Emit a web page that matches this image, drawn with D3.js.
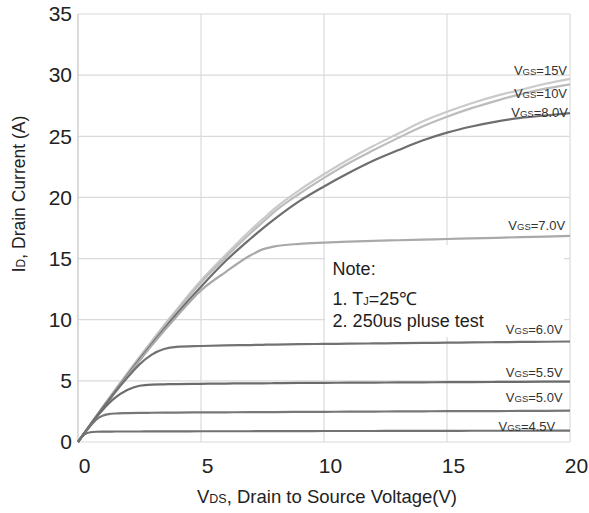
<!DOCTYPE html>
<html>
<head>
<meta charset="utf-8">
<script src="https://cdn.jsdelivr.net/npm/d3@7"></script>
<style>
  body { margin: 0; background: #fff; }
  text { font-family: "Liberation Sans", Arial, sans-serif; }
</style>
</head>
<body>
<svg id="chart" width="589" height="513"></svg>
<script>
// VDS sample points (V), shared by every curve
const vds = [0, 0.25, 0.5, 0.75, 1, 1.25, 1.5, 2, 2.5, 3, 3.5, 4, 5, 6, 7, 7.5, 8, 9, 10, 11, 12, 13, 14, 15, 16, 17, 18, 19, 20];

// ID (A) for each VGS
const id15 = [0, 0.72, 1.44, 2.15, 2.85, 3.55, 4.25, 5.6, 6.95, 8.25, 9.55, 10.8, 13.2, 15.3, 17.3, 18.2, 19.1, 20.6, 21.9, 23.1, 24.2, 25.2, 26.2, 27.0, 27.7, 28.3, 28.8, 29.3, 29.7];
const id10 = [0, 0.72, 1.43, 2.14, 2.84, 3.53, 4.22, 5.57, 6.9, 8.2, 9.48, 10.7, 13.05, 15.1, 17.05, 17.95, 18.85, 20.3, 21.6, 22.8, 23.85, 24.85, 25.8, 26.6, 27.3, 27.9, 28.45, 28.9, 29.25];
const id8  = [0, 0.7, 1.4, 2.1, 2.78, 3.45, 4.12, 5.45, 6.75, 8.0, 9.25, 10.45, 12.7, 14.8, 16.6, 17.45, 18.25, 19.7, 20.9, 22.0, 23.0, 23.85, 24.65, 25.3, 25.8, 26.2, 26.5, 26.7, 26.9];
const id7  = [0, 0.7, 1.4, 2.08, 2.75, 3.42, 4.08, 5.38, 6.65, 7.9, 9.1, 10.25, 12.4, 13.9, 15.25, 15.75, 16.0, 16.2, 16.3, 16.38, 16.45, 16.5, 16.55, 16.6, 16.65, 16.7, 16.75, 16.8, 16.85];
const id6  = [0, 0.7, 1.4, 2.08, 2.75, 3.4, 4.05, 5.25, 6.35, 7.15, 7.6, 7.78, 7.85, 7.9, 7.93, 7.95, 7.97, 8.0, 8.02, 8.04, 8.06, 8.08, 8.1, 8.12, 8.14, 8.16, 8.18, 8.2, 8.22];
const id55 = [0, 0.7, 1.38, 2.03, 2.62, 3.15, 3.6, 4.25, 4.6, 4.7, 4.72, 4.74, 4.76, 4.78, 4.8, 4.8, 4.81, 4.83, 4.84, 4.85, 4.86, 4.87, 4.88, 4.89, 4.9, 4.91, 4.92, 4.93, 4.94];
const id5  = [0, 0.68, 1.3, 1.85, 2.15, 2.28, 2.33, 2.36, 2.38, 2.39, 2.4, 2.41, 2.42, 2.43, 2.44, 2.44, 2.45, 2.46, 2.47, 2.48, 2.49, 2.5, 2.51, 2.52, 2.52, 2.53, 2.54, 2.55, 2.56];
const id45 = [0, 0.6, 0.8, 0.84, 0.85, 0.85, 0.86, 0.86, 0.86, 0.87, 0.87, 0.87, 0.88, 0.88, 0.88, 0.89, 0.89, 0.89, 0.9, 0.9, 0.9, 0.91, 0.91, 0.91, 0.92, 0.92, 0.92, 0.93, 0.93];

const vgsNames = ["15V", "10V", "8.0V", "7.0V", "6.0V", "5.5V", "5.0V", "4.5V"];
const vgsCurves = [id15, id10, id8, id7, id6, id55, id5, id45];
const lineColors = ["#cacaca", "#bcbcbc", "#6e6e6e", "#a9a9a9", "#727272", "#6c6c6c", "#777777", "#727272"];
// where each curve label sits (VDS of right end, ID of baseline)
const labelVds = [19.88, 19.88, 19.92, 19.8, 19.7, 19.7, 19.7, 19.4];
const labelId = [30.0, 28.1, 26.6, 17.3, 8.8, 5.3, 3.3, 0.94];

const xTicks = [0, 5, 10, 15, 20];
const yTicks = [0, 5, 10, 15, 20, 25, 30, 35];

const svg = d3.select("#chart");
const x = d3.scaleLinear().domain([0, 20]).range([78, 570]);
const y = d3.scaleLinear().domain([0, 35]).range([442, 14]);

// grid
const grid = svg.append("g").attr("stroke", "#dadada").attr("stroke-width", 1.2);
grid.selectAll(".h").data(yTicks).join("line")
    .attr("x1", x(0)).attr("x2", x(20))
    .attr("y1", d => y(d)).attr("y2", d => y(d));
grid.selectAll(".v").data(xTicks).join("line")
    .attr("x1", d => x(d)).attr("x2", d => x(d))
    .attr("y1", y(0)).attr("y2", y(35))
    .attr("stroke", d => d === 0 ? "#c4c4c4" : "#dadada");

// white box behind the note
svg.append("rect")
    .attr("x", x(10) + 1).attr("y", y(16.1))
    .attr("width", x(19.75) - x(10) - 1).attr("height", y(8.6) - y(16.1))
    .attr("fill", "#fff");

// axes labels
const yAxis = d3.axisLeft(y).tickValues(yTicks).tickSize(0).tickPadding(6);
svg.append("g").attr("transform", `translate(${x(0)},0)`).call(yAxis)
    .call(g => g.select(".domain").remove())
    .selectAll("text").attr("font-size", 21).attr("fill", "#222")
    .attr("font-family", "'Liberation Sans', Arial, sans-serif");

const xAxis = d3.axisBottom(x).tickValues(xTicks).tickSize(0).tickPadding(16);
svg.append("g").attr("transform", `translate(0,${y(0)})`).call(xAxis)
    .call(g => g.select(".domain").remove())
    .selectAll("text").attr("font-size", 21).attr("fill", "#222").attr("dx", 6)
    .attr("font-family", "'Liberation Sans', Arial, sans-serif");

// curves
const line = d3.line()
    .x((d, i) => x(vds[i]))
    .y(d => y(d))
    .curve(d3.curveMonotoneX);

svg.append("g").selectAll("path").data(vgsCurves).join("path")
    .attr("d", d => line(d))
    .attr("fill", "none")
    .attr("stroke", (d, i) => lineColors[i])
    .attr("stroke-width", 2.2);

// curve labels
const lab = svg.append("g").selectAll("text").data(vgsNames).join("text")
    .attr("x", (d, i) => x(labelVds[i]))
    .attr("y", (d, i) => y(labelId[i]))
    .attr("text-anchor", "end")
    .attr("fill", "#333");
lab.append("tspan").attr("font-size", 13).text("V");
lab.append("tspan").attr("font-size", 9.5).text("GS");
lab.append("tspan").attr("font-size", 13).text(d => "=" + d);

// note
const note = svg.append("g").attr("fill", "#1e1e1e").attr("font-size", 18);
note.append("text").attr("x", x(10.35)).attr("y", y(13.65)).text("Note:");
const n1 = note.append("text").attr("x", x(10.35)).attr("y", y(11.2));
n1.append("tspan").text("1. T");
n1.append("tspan").attr("font-size", 11).text("J");
n1.append("tspan").text("=25℃");
note.append("text").attr("x", x(10.35)).attr("y", y(9.4)).text("2. 250us pluse test");

// axis titles
const xt = svg.append("text").attr("x", 327).attr("y", 503)
    .attr("text-anchor", "middle").attr("font-size", 18.5).attr("fill", "#222");
xt.append("tspan").text("V");
xt.append("tspan").attr("font-size", 12.5).text("DS");
xt.append("tspan").text(", Drain to Source Voltage(V)");

const yt = svg.append("text").attr("transform", "translate(25,194) rotate(-90)")
    .attr("text-anchor", "middle").attr("font-size", 17.5).attr("fill", "#222");
yt.append("tspan").text("I");
yt.append("tspan").attr("font-size", 12).text("D");
yt.append("tspan").text(", Drain Current (A)");
</script>
</body>
</html>
